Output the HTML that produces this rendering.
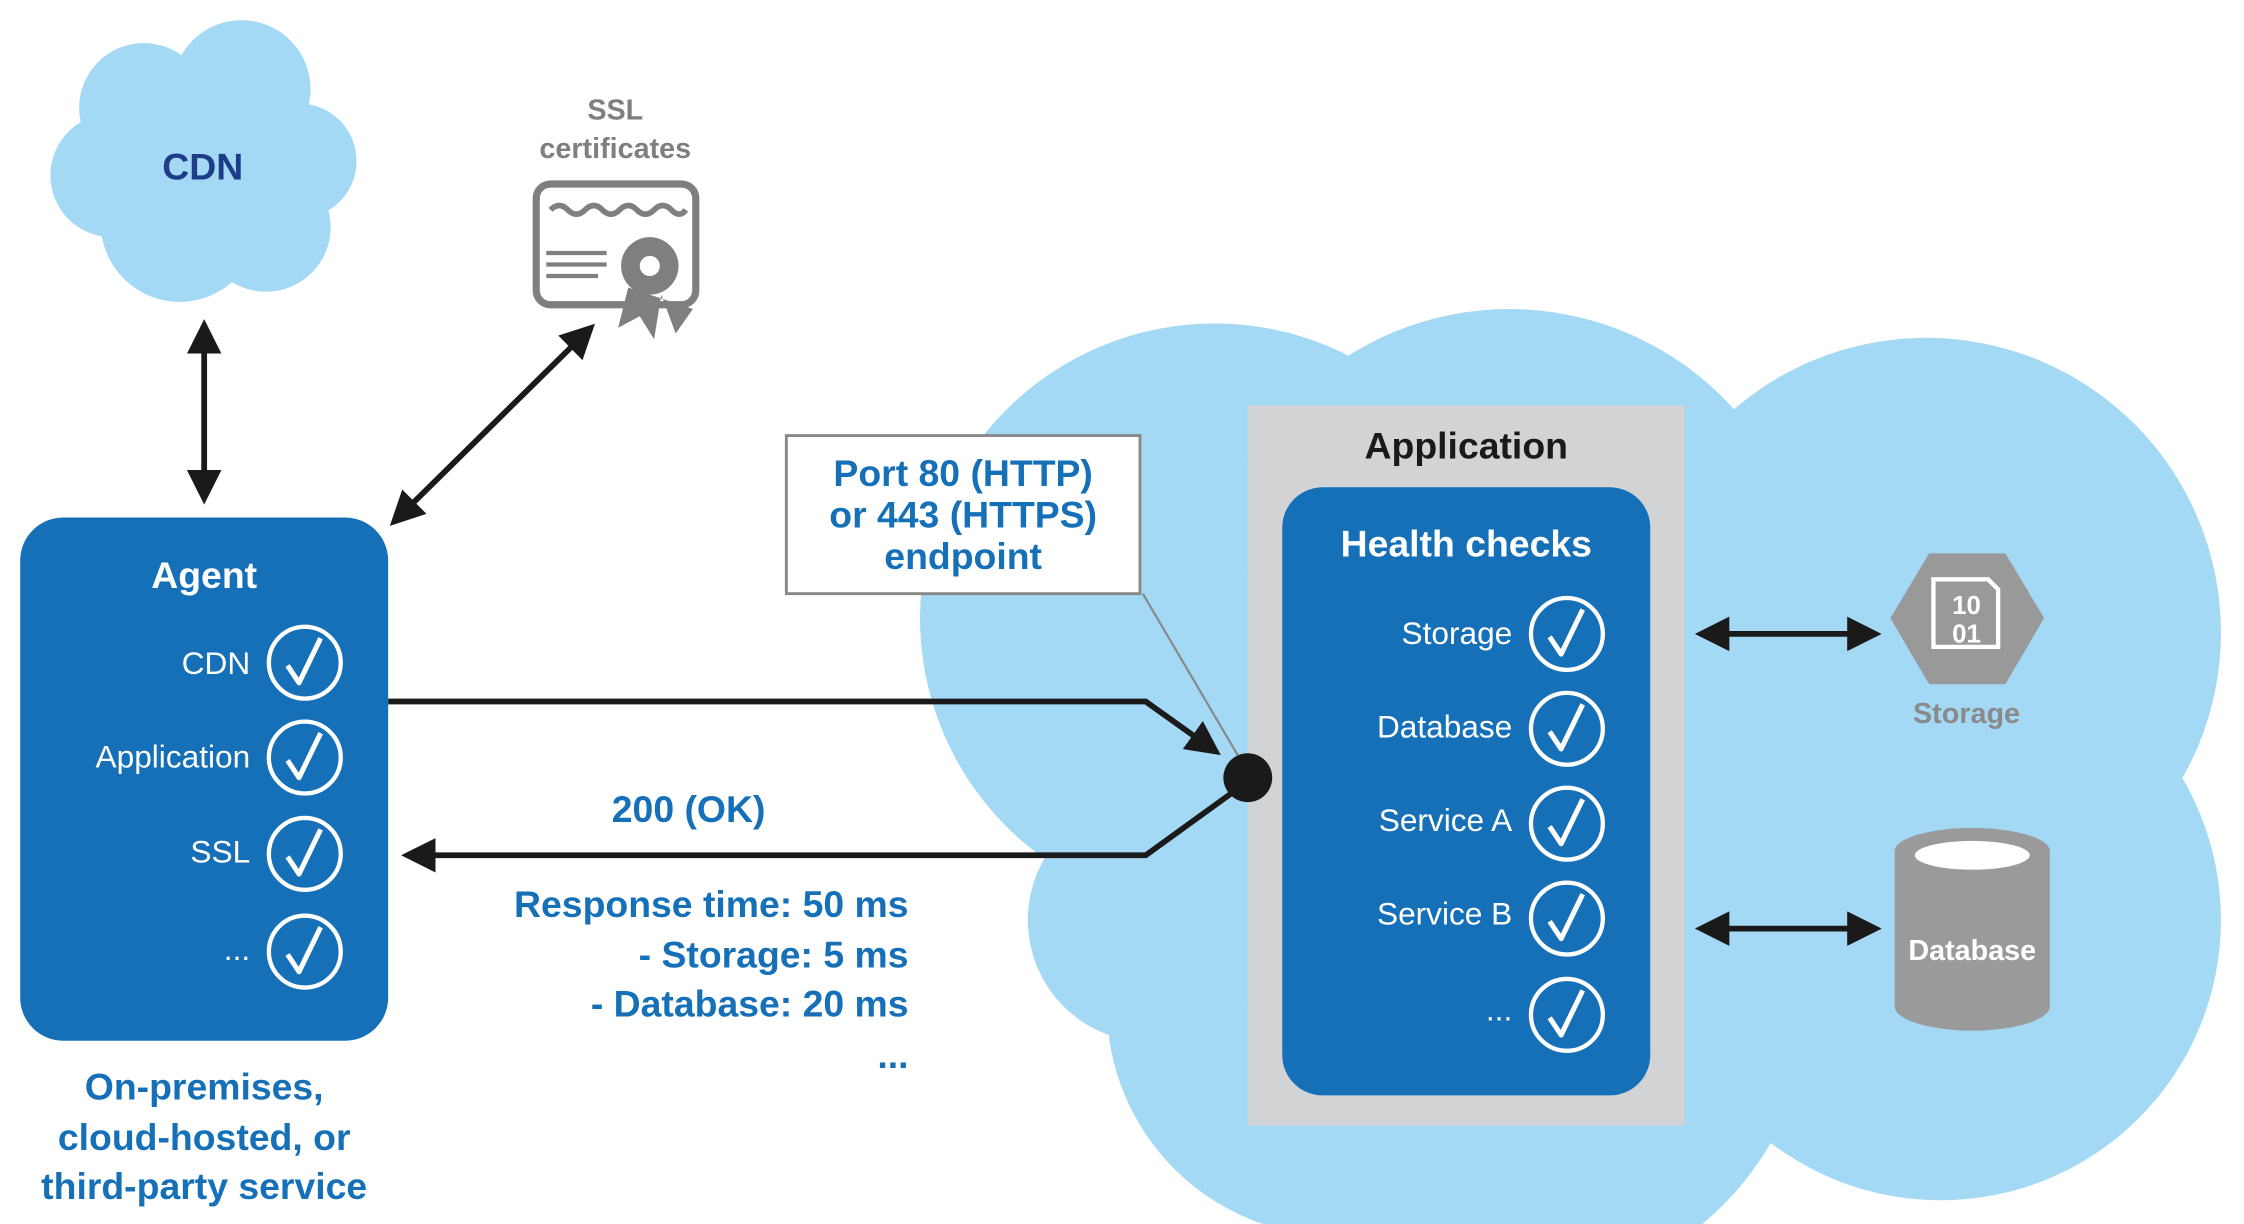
<!DOCTYPE html>
<html><head><meta charset="utf-8"><style>
html,body{margin:0;padding:0;background:#fff;overflow:hidden;width:2244px;height:1224px;}
svg{display:block;overflow:hidden;}
text{font-family:"Liberation Sans",sans-serif;font-weight:bold;}
</style></head><body>
<svg width="2244" height="1224" viewBox="0 0 1561 851.5" xmlns="http://www.w3.org/2000/svg">
<defs>
<clipPath id="clip"><rect x="0" y="0" width="1561" height="851.5"/></clipPath>
<marker id="ah" markerWidth="6" markerHeight="6" refX="5" refY="3" orient="auto-start-reverse" markerUnits="strokeWidth">
<path d="M0,0 L6,3 L0,6 z" fill="#1a1a1a"/></marker>
<g id="chk"><circle r="25" fill="none" stroke="#fff" stroke-width="3"/><path d="M-12,2 L-4,14 L11,-17" fill="none" stroke="#fff" stroke-width="3.5" stroke-linejoin="round"/></g>
</defs>
<!-- big cloud -->
<g fill="#a3d9f5" clip-path="url(#clip)">
<circle cx="845" cy="430" r="205"/>
<circle cx="1050" cy="425" r="210"/>
<circle cx="1340" cy="440" r="205"/>
<circle cx="1350" cy="640" r="195"/>
<circle cx="800" cy="640" r="85"/>
<circle cx="1050" cy="690" r="210"/>
<circle cx="930" cy="700" r="160"/>
<rect x="800" y="400" width="600" height="300"/>
</g>
<!-- CDN cloud -->
<g fill="#a3d9f5">
<circle cx="100" cy="75" r="45"/><circle cx="168" cy="62" r="48"/><circle cx="208" cy="112" r="40"/>
<circle cx="185" cy="158" r="45"/><circle cx="125" cy="155" r="55"/><circle cx="78" cy="122" r="43"/>
<circle cx="140" cy="112" r="70"/>
</g>
<text x="141" y="125" font-size="26" fill="#1f3c88" text-anchor="middle">CDN</text>
<!-- SSL -->
<text x="428" y="83" font-size="20" fill="#7f7f7f" text-anchor="middle">SSL</text>
<text x="428" y="110" font-size="20" fill="#7f7f7f" text-anchor="middle">certificates</text>
<g fill="none" stroke="#7f7f7f">
<rect x="373" y="128" width="111" height="84" rx="10" stroke-width="5"/>
<path d="M383,146 q6,-6 12,0 q6,6 12,0 q6,-6 12,0 q6,6 12,0 q6,-6 12,0 q6,6 12,0 q6,-6 12,0 q6,6 10,0" stroke-width="4"/>
<path d="M380,176 h42 M380,184 h42 M380,192 h36" stroke-width="3"/>
</g>
<path d="M437,200 L430,228 L445,220 L455,236 L460,205 L470,232 L482,215 Z" fill="#7f7f7f"/>
<circle cx="452" cy="185" r="20" fill="#7f7f7f"/><circle cx="452" cy="185" r="7" fill="#fff"/>
<!-- arrows -->
<g stroke="#1a1a1a" stroke-width="4" fill="none">
<line x1="142" y1="226" x2="142" y2="347" marker-start="url(#ah)" marker-end="url(#ah)"/>
<line x1="274" y1="363" x2="411" y2="228" marker-start="url(#ah)" marker-end="url(#ah)"/>
<polyline points="270,488 797,488 846,523" marker-end="url(#ah)"/>
<polyline points="862,548 797,595 283,595" marker-end="url(#ah)"/>
<line x1="1183" y1="441" x2="1305" y2="441" marker-start="url(#ah)" marker-end="url(#ah)"/>
<line x1="1183" y1="646" x2="1305" y2="646" marker-start="url(#ah)" marker-end="url(#ah)"/>
</g>
<!-- agent -->
<rect x="14" y="360" width="256" height="364" rx="30" fill="#1570b8"/>
<text x="142" y="409" font-size="26" fill="#fff" text-anchor="middle">Agent</text>
<g font-size="22" fill="#fff" text-anchor="end">
<text x="174" y="469" style="font-weight:normal">CDN</text>
<text x="174" y="534" style="font-weight:normal">Application</text>
<text x="174" y="600" style="font-weight:normal">SSL</text>
<text x="174" y="668" style="font-weight:normal">...</text>
</g>
<use href="#chk" x="212" y="461"/><use href="#chk" x="212" y="527"/><use href="#chk" x="212" y="594"/><use href="#chk" x="212" y="662"/>
<g font-size="26" fill="#1570b8" text-anchor="middle">
<text x="142" y="765">On-premises,</text>
<text x="142" y="800">cloud-hosted, or</text>
<text x="142" y="834">third-party service</text>
</g>
<!-- port box -->
<rect x="547" y="303" width="246" height="110" fill="#fff" stroke="#888" stroke-width="2"/>
<line x1="795" y1="413" x2="862" y2="527" stroke="#888" stroke-width="1.5"/>
<g font-size="26" fill="#1570b8" text-anchor="middle">
<text x="670" y="338">Port 80 (HTTP)</text>
<text x="670" y="367">or 443 (HTTPS)</text>
<text x="670" y="396">endpoint</text>
<text x="479" y="572">200 (OK)</text>
</g>
<g font-size="26" fill="#1570b8" text-anchor="end">
<text x="632" y="638">Response time: 50 ms</text>
<text x="632" y="673">- Storage:  5 ms</text>
<text x="632" y="707">- Database: 20 ms</text>
<text x="632" y="743">...</text>
</g>
<!-- application -->
<rect x="868" y="282" width="304" height="501" fill="#d1d3d5"/>
<circle cx="868" cy="541" r="17" fill="#1a1a1a"/>
<text x="1020" y="319" font-size="26" fill="#1a1a1a" text-anchor="middle">Application</text>
<rect x="892" y="339" width="256" height="423" rx="28" fill="#1570b8"/>
<text x="1020" y="387" font-size="26" fill="#fff" text-anchor="middle">Health checks</text>
<g font-size="22" fill="#fff" text-anchor="end">
<text x="1052" y="448" style="font-weight:normal">Storage</text>
<text x="1052" y="513" style="font-weight:normal">Database</text>
<text x="1052" y="578" style="font-weight:normal">Service A</text>
<text x="1052" y="643" style="font-weight:normal">Service B</text>
<text x="1052" y="710" style="font-weight:normal">...</text>
</g>
<use href="#chk" x="1090" y="441"/><use href="#chk" x="1090" y="507"/><use href="#chk" x="1090" y="573"/><use href="#chk" x="1090" y="639"/><use href="#chk" x="1090" y="706"/>
<!-- storage -->
<polygon points="1315,430 1342,385 1395,385 1422,430 1395,476 1342,476" fill="#999"/>
<path d="M1345,403 h38 l7,7 v40 h-45 z" fill="none" stroke="#fff" stroke-width="3"/>
<text x="1368" y="427" font-size="18" fill="#fff" text-anchor="middle">10</text>
<text x="1368" y="447" font-size="18" fill="#fff" text-anchor="middle">01</text>
<text x="1368" y="503" font-size="20" fill="#8a8a8a" text-anchor="middle">Storage</text>
<!-- database -->
<rect x="1318" y="592" width="108" height="108" fill="#9a9a9a"/>
<ellipse cx="1372" cy="700" rx="54" ry="17" fill="#9a9a9a"/>
<ellipse cx="1372" cy="592" rx="54" ry="16" fill="#9a9a9a"/>
<ellipse cx="1372" cy="595" rx="40" ry="10" fill="#fff"/>
<text x="1372" y="668" font-size="20" fill="#fff" text-anchor="middle">Database</text>
</svg>
</body></html>
